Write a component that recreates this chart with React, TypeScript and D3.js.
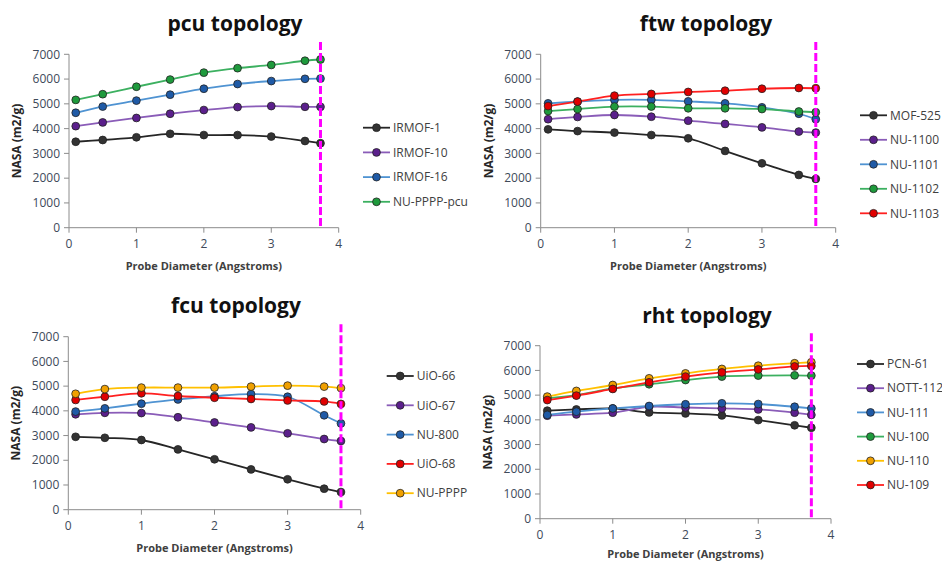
import * as d3 from "d3";

// probe diameters (Angstroms); last point sits on the cutoff line
const probeDiam = [0.1, 0.5, 1, 1.5, 2, 2.5, 3, 3.5, 3.73];
const cutoff = 3.73;
const yTicks = [0, 1000, 2000, 3000, 4000, 5000, 6000, 7000];
const xTicks = [0, 1, 2, 3, 4];

// pcu topology
const pcuNames = ["IRMOF-1", "IRMOF-10", "IRMOF-16", "NU-PPPP-pcu"];
const irmof1 = [3470, 3540, 3650, 3790, 3740, 3740, 3680, 3500, 3410];
const irmof10 = [4100, 4250, 4430, 4600, 4750, 4870, 4910, 4880, 4880];
const irmof16 = [4640, 4890, 5130, 5370, 5610, 5800, 5920, 6010, 6020];
const nupppppcu = [5160, 5390, 5690, 5980, 6260, 6440, 6570, 6740, 6790];

// ftw topology
const ftwNames = ["MOF-525", "NU-1100", "NU-1101", "NU-1102", "NU-1103"];
const mof525 = [3970, 3900, 3840, 3740, 3610, 3100, 2600, 2130, 1970];
const nu1100 = [4380, 4470, 4550, 4480, 4320, 4190, 4050, 3880, 3840];
const nu1101 = [5020, 5090, 5160, 5160, 5100, 5020, 4860, 4600, 4380];
const nu1102 = [4710, 4790, 4890, 4890, 4820, 4820, 4790, 4690, 4660];
const nu1103 = [4910, 5090, 5330, 5400, 5480, 5530, 5610, 5640, 5630];

// fcu topology
const fcuNames = ["UiO-66", "UiO-67", "NU-800", "UiO-68", "NU-PPPP"];
const uio66 = [2950, 2910, 2820, 2440, 2040, 1630, 1230, 850, 715];
const uio67 = [3860, 3920, 3910, 3740, 3530, 3330, 3090, 2860, 2780];
const nu800 = [3970, 4100, 4290, 4460, 4590, 4680, 4570, 3820, 3490];
const uio68 = [4440, 4570, 4710, 4600, 4530, 4480, 4420, 4380, 4280];
const nupppp = [4690, 4880, 4940, 4940, 4940, 4980, 5020, 4980, 4920];

// rht topology
const rhtNames = ["PCN-61", "NOTT-112", "NU-111", "NU-100", "NU-110", "NU-109"];
const pcn61 = [4370, 4420, 4460, 4300, 4260, 4180, 3990, 3780, 3680];
const nott112 = [4170, 4220, 4290, 4530, 4500, 4460, 4420, 4290, 4200];
const nu111 = [4200, 4330, 4460, 4560, 4630, 4670, 4640, 4530, 4460];
const nu100 = [4870, 5000, 5270, 5440, 5610, 5750, 5790, 5800, 5790];
const nu110 = [4940, 5170, 5410, 5680, 5880, 6060, 6190, 6290, 6330];
const nu109 = [4800, 4980, 5250, 5520, 5750, 5920, 6040, 6160, 6180];

const FONT = "'Open Sans', sans-serif";
const AXIS = "#8c8c8c";
const TICK_TXT = "#404a5a";

const black = { line: "#262626", fill: "#333333" };
const purple = { line: "#8a5cb8", fill: "#5b1f8c" };
const blue = { line: "#4f93d2", fill: "#1f5aa6" };
const green = { line: "#3cb060", fill: "#1e9a3c" };
const red = { line: "#ff2020", fill: "#e00000" };
const yellow = { line: "#ffc000", fill: "#f0a000" };

type Series = { name: string; values: number[]; line: string; fill: string };
type Box = { x0: number; x1: number; y0: number; y1: number };

function Panel({
  title,
  titleX,
  titleY,
  box,
  series,
  legend,
  xTitleDy = 42,
}: {
  title: string;
  titleX: number;
  titleY: number;
  box: Box;
  series: Series[];
  legend: { x: number; y: number; gap: number };
  xTitleDy?: number;
}) {
  const x = d3.scaleLinear().domain([0, 4]).range([box.x0, box.x1]);
  const y = d3.scaleLinear().domain([0, 7000]).range([box.y1, box.y0]);
  const line = d3
    .line<number>()
    .x((_, i) => x(probeDiam[i]))
    .y((d) => y(d))
    .curve(d3.curveCatmullRom);
  const midX = (box.x0 + box.x1) / 2;
  const midY = (box.y0 + box.y1) / 2;

  return (
    <g>
      <text x={titleX} y={titleY} textAnchor="middle" fontFamily={FONT} fontWeight="bold" fontSize={21} fill="#111">
        {title}
      </text>
      {/* axes */}
      <line x1={box.x0} x2={box.x0} y1={y(7000)} y2={y(0)} stroke={AXIS} />
      <line x1={box.x0} x2={box.x1} y1={y(0)} y2={y(0)} stroke={AXIS} />
      {yTicks.map((t) => (
        <g key={t}>
          <line x1={box.x0 - 5} x2={box.x0} y1={y(t)} y2={y(t)} stroke={AXIS} />
          <text x={box.x0 - 9} y={y(t)} dy="0.35em" textAnchor="end" fontFamily={FONT} fontSize={12} fill={TICK_TXT}>
            {t}
          </text>
        </g>
      ))}
      {xTicks.map((t) => (
        <g key={t}>
          <line x1={x(t)} x2={x(t)} y1={y(0)} y2={y(0) + 5} stroke={AXIS} />
          <text x={x(t)} y={y(0) + 20} textAnchor="middle" fontFamily={FONT} fontSize={12} fill={TICK_TXT}>
            {t}
          </text>
        </g>
      ))}
      <text x={midX} y={y(0) + xTitleDy} textAnchor="middle" fontFamily={FONT} fontWeight="bold" fontSize={11} fill="#404040">
        Probe Diameter (Angstroms)
      </text>
      <text
        transform={`translate(${box.x0 - 48},${midY}) rotate(-90)`}
        textAnchor="middle"
        fontFamily={FONT}
        fontWeight="bold"
        fontSize={12}
        fill="#262626"
      >
        NASA (m2/g)
      </text>
      {/* series */}
      {series.map((s) => (
        <path key={s.name} d={line(s.values) ?? ""} fill="none" stroke={s.line} strokeWidth={1.8} />
      ))}
      {series.map((s) =>
        s.values.map((v, i) => (
          <circle key={s.name + i} cx={x(probeDiam[i])} cy={y(v)} r={3.9} fill={s.fill} stroke="#222" strokeWidth={0.8} />
        ))
      )}
      {/* cutoff line */}
      <line
        x1={x(cutoff)}
        x2={x(cutoff)}
        y1={y(7500)}
        y2={y(0)}
        stroke="#ff00ff"
        strokeWidth={3}
        strokeDasharray="8,3"
      />
      {/* legend */}
      {series.map((s, i) => {
        const ly = legend.y + i * legend.gap;
        return (
          <g key={s.name}>
            <line x1={legend.x} x2={legend.x + 27} y1={ly} y2={ly} stroke={s.line} strokeWidth={1.8} />
            <circle cx={legend.x + 13.5} cy={ly} r={3.9} fill={s.fill} stroke="#222" strokeWidth={0.8} />
            <text x={legend.x + 30} y={ly} dy="0.35em" fontFamily={FONT} fontSize={12} fill="#404040">
              {s.name}
            </text>
          </g>
        );
      })}
    </g>
  );
}

export default function App() {
  const pcu: Series[] = [irmof1, irmof10, irmof16, nupppppcu].map((v, i) => ({
    name: pcuNames[i],
    values: v,
    ...[black, purple, blue, green][i],
  }));
  const ftw: Series[] = [mof525, nu1100, nu1101, nu1102, nu1103].map((v, i) => ({
    name: ftwNames[i],
    values: v,
    ...[black, purple, blue, green, red][i],
  }));
  const fcu: Series[] = [uio66, uio67, nu800, uio68, nupppp].map((v, i) => ({
    name: fcuNames[i],
    values: v,
    ...[black, purple, blue, red, yellow][i],
  }));
  const rht: Series[] = [pcn61, nott112, nu111, nu100, nu110, nu109].map((v, i) => ({
    name: rhtNames[i],
    values: v,
    ...[black, purple, blue, green, yellow, red][i],
  }));

  return (
    <svg width={942} height={562} style={{ position: "absolute", left: 0, top: 0, background: "#fff" }}>
      <Panel
        title="pcu topology"
        titleX={235}
        titleY={31}
        box={{ x0: 69, x1: 338.7, y0: 54.3, y1: 227.7 }}
        series={pcu}
        legend={{ x: 363, y: 127.7, gap: 24.7 }}
      />
      <Panel
        title="ftw topology"
        titleX={706}
        titleY={31}
        box={{ x0: 540.7, x1: 835.7, y0: 54.3, y1: 227.7 }}
        series={ftw}
        legend={{ x: 860, y: 115.3, gap: 24.5 }}
      />
      <Panel
        title="fcu topology"
        titleX={236}
        titleY={313}
        box={{ x0: 68.3, x1: 360.7, y0: 336.7, y1: 509.7 }}
        series={fcu}
        legend={{ x: 386.7, y: 376, gap: 29.3 }}
      />
      <Panel
        title="rht topology"
        titleX={707}
        titleY={322.7}
        box={{ x0: 540, x1: 831, y0: 345.7, y1: 518.7 }}
        series={rht}
        legend={{ x: 857, y: 364, gap: 24.2 }}
        xTitleDy={39}
      />
    </svg>
  );
}
